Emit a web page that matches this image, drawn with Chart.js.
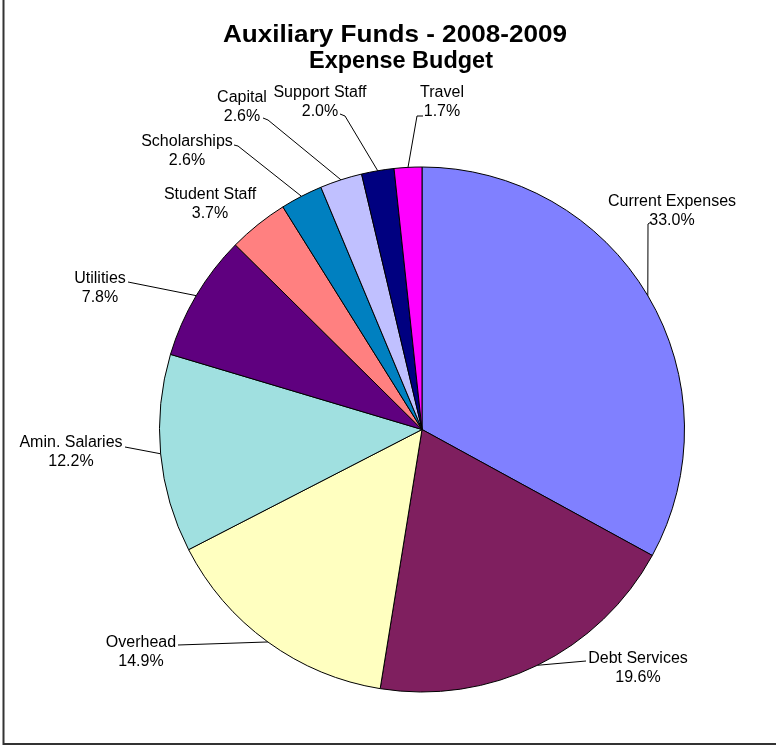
<!DOCTYPE html>
<html>
<head>
<meta charset="utf-8">
<script src="https://cdn.jsdelivr.net/npm/chart.js@4.4.1/dist/chart.umd.min.js"></script>
<style>
  html, body { margin: 0; padding: 0; background: #fff; }
  canvas { display: block; }
</style>
</head>
<body>
<canvas id="c" width="776" height="747"></canvas>
<script>
// ---- data ----
const categories = ["Current Expenses", "Debt Services", "Overhead", "Amin. Salaries", "Utilities",
                    "Student Staff", "Scholarships", "Capital", "Support Staff", "Travel"];
const shares = [33.0, 19.6, 14.9, 12.2, 7.8, 3.7, 2.6, 2.6, 2.0, 1.7];
const titleLines = ["Auxiliary Funds - 2008-2009", "Expense Budget"];

// ---- style / layout ----
const sliceColors = ["#8080FF", "#7F1F5F", "#FFFFC0", "#A0E0E0", "#5F007F",
                     "#FF8080", "#0080C0", "#C0C0FF", "#000080", "#FF00FF"];
// title lines: center x, baseline y, target width
const titleLayout = [
  { x: 395, y: 42, w: 344 },
  { x: 401, y: 68, w: 184 }
];
// label block: center x, first-line baseline y, leader tail polyline (label side)
const labelLayout = [
  { x: 672, y: 206, tail: [[651, 222], [648, 224]] },
  { x: 638, y: 663, tail: [[586, 661]] },
  { x: 141, y: 647, tail: [[178, 645]] },
  { x: 71,  y: 447, tail: [[125, 447]] },
  { x: 100, y: 283, tail: [[128, 282]] },
  { x: 210, y: 199, tail: null },
  { x: 187, y: 146, tail: [[234, 145], [238, 146]] },
  { x: 242, y: 102, tail: [[263, 118], [268, 120]] },
  { x: 320, y: 97,  tail: [[340, 114], [345, 116]] },
  { x: 442, y: 97,  tail: [[423, 116], [417, 116]] }
];

const labelPlugin = {
  id: 'pieLabels',
  beforeDraw(chart) {
    const ctx = chart.ctx;
    ctx.save();
    ctx.fillStyle = '#fff';
    ctx.fillRect(0, 0, chart.width, chart.height);
    ctx.restore();
  },
  afterDraw(chart) {
    const ctx = chart.ctx;
    const meta = chart.getDatasetMeta(0);
    ctx.save();
    // frame (left and bottom edges visible)
    ctx.strokeStyle = '#333';
    ctx.lineWidth = 2;
    ctx.beginPath();
    ctx.moveTo(3.5, 0);
    ctx.lineTo(3.5, 744);
    ctx.lineTo(chart.width, 744);
    ctx.stroke();

    // title (stretched horizontally to the reference width)
    ctx.fillStyle = '#000';
    ctx.textAlign = 'center';
    ctx.textBaseline = 'alphabetic';
    ctx.font = 'bold 24px "Liberation Sans", Arial, sans-serif';
    titleLines.forEach((t, i) => {
      const T = titleLayout[i];
      const sx = T.w / ctx.measureText(t).width;
      ctx.save();
      ctx.translate(T.x, T.y);
      ctx.scale(sx, 1);
      ctx.fillText(t, 0, 0);
      ctx.restore();
    });

    // labels + leaders
    ctx.font = '16px "Liberation Sans", Arial, sans-serif';
    meta.data.forEach((arc, i) => {
      const p = arc.getProps(['x', 'y', 'startAngle', 'endAngle', 'outerRadius'], true);
      const mid = (p.startAngle + p.endAngle) / 2;
      const ax = p.x + Math.cos(mid) * p.outerRadius;
      const ay = p.y + Math.sin(mid) * p.outerRadius;
      const L = labelLayout[i];
      if (L.tail) {
        ctx.strokeStyle = '#000';
        ctx.lineWidth = 1;
        ctx.beginPath();
        ctx.moveTo(L.tail[0][0], L.tail[0][1]);
        for (let k = 1; k < L.tail.length; k++) ctx.lineTo(L.tail[k][0], L.tail[k][1]);
        ctx.lineTo(ax, ay);
        ctx.stroke();
      }
      ctx.fillStyle = '#000';
      ctx.fillText(categories[i], L.x, L.y);
      ctx.fillText(shares[i].toFixed(1) + '%', L.x, L.y + 18.5);
    });
    ctx.restore();
  }
};

new Chart(document.getElementById('c'), {
  type: 'pie',
  data: {
    labels: categories,
    datasets: [{
      data: shares,
      backgroundColor: sliceColors,
      borderColor: '#000',
      borderWidth: 1
    }]
  },
  options: {
    responsive: false,
    animation: false,
    events: [],
    layout: { padding: { left: 159, right: 91, top: 166.5, bottom: 54.5 } },
    plugins: {
      legend: { display: false },
      title: { display: false },
      tooltip: { enabled: false }
    }
  },
  plugins: [labelPlugin]
});
</script>
</body>
</html>
